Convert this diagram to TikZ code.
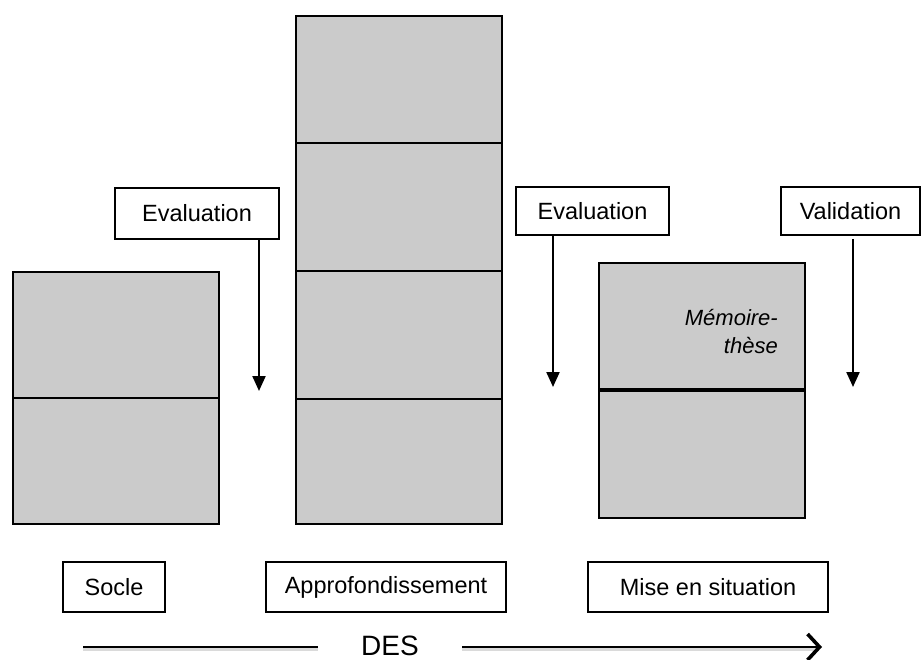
\documentclass[tikz,border=0pt]{standalone}
\usepackage{fontspec}
\setmainfont{Liberation Sans}
\usetikzlibrary{arrows.meta}
\definecolor{boxgray}{HTML}{CBCBCB}
\definecolor{shadowgray}{HTML}{DADADA}
\begin{document}
\begin{tikzpicture}[x=1pt,y=-1pt,
  gbox/.style={draw=black,fill=boxgray,line width=2pt,anchor=north west,inner sep=0pt,outer sep=0pt},
  lbox/.style={draw=black,fill=white,line width=1.8pt,anchor=north west,inner sep=0pt,outer sep=0pt,font=\fontsize{23.5}{28}\selectfont},
  arr/.style={line width=2.2pt,-{Triangle[width=13pt,length=15pt]}},
  desline/.style={line width=2.4pt},
  shadowline/.style={line width=3pt,draw=shadowgray},
]
\useasboundingbox (0,0) rectangle (921,660);
% Socle stack
\node[gbox,minimum width=206pt,minimum height=126pt] (s1) at (13,272) {};
\node[gbox,minimum width=206pt,minimum height=126pt] (s2) at (13,398) {};
% Approfondissement stack
\node[gbox,minimum width=206pt,minimum height=127pt] (a1) at (296,16) {};
\node[gbox,minimum width=206pt,minimum height=128pt] (a2) at (296,143) {};
\node[gbox,minimum width=206pt,minimum height=128pt] (a3) at (296,271) {};
\node[gbox,minimum width=206pt,minimum height=125pt] (a4) at (296,399) {};
% Mise en situation stack
\node[gbox,minimum width=206pt,minimum height=126pt] (m1) at (599,263) {};
\node[gbox,minimum width=206pt,minimum height=127pt] (m2) at (599,391) {};
\node[font=\fontsize{22}{28}\selectfont\itshape,align=right,anchor=north east,inner sep=0pt] (mt) at (778,309) {Mémoire-\\thèse};
% label boxes
\node[lbox,minimum width=164pt,minimum height=51pt] (ev1) at (115,188) {Evaluation};
\node[lbox,minimum width=153pt,minimum height=48pt] (ev2) at (516,187) {Evaluation};
\node[lbox,minimum width=139pt,minimum height=48pt] (val) at (781,187) {Validation};
\coordinate (t1) at (259,391);
\coordinate (t2) at (553,387);
\coordinate (t3) at (853,387);
\draw[arr] (ev1.south -| t1) -- (t1);
\draw[arr] (ev2.south -| t2) -- (t2);
\draw[arr] ([yshift=-4pt]val.south -| t3) -- (t3);
% bottom labels
\node[lbox,minimum width=102pt,minimum height=50pt] (soc) at (63,562) {Socle};
\node[lbox,minimum width=240pt,minimum height=50pt] (app) at (266,562) {Approfondissement};
\node[lbox,minimum width=240pt,minimum height=50pt] (mis) at (588,562) {Mise en situation};
% DES
\node[font=\fontsize{28}{32}\selectfont,inner sep=0pt,anchor=base] (des) at (390,655) {DES};
\coordinate (dl) at (83,647);
\coordinate (dlend) at (318,647);
\coordinate (drstart) at (462,647);
\coordinate (dr) at (822,647);
\draw[shadowline] ([yshift=-2pt]dl) -- ([yshift=-2pt]dlend);
\draw[shadowline] ([yshift=-2pt]drstart) -- ([yshift=-2pt,xshift=-6pt]dr);
\draw[desline] (dl) -- (dlend);
\draw[desline,-{Straight Barb[length=12pt,width=26pt,line width=3.6pt]}] (drstart) -- (dr);
\end{tikzpicture}
\end{document}
